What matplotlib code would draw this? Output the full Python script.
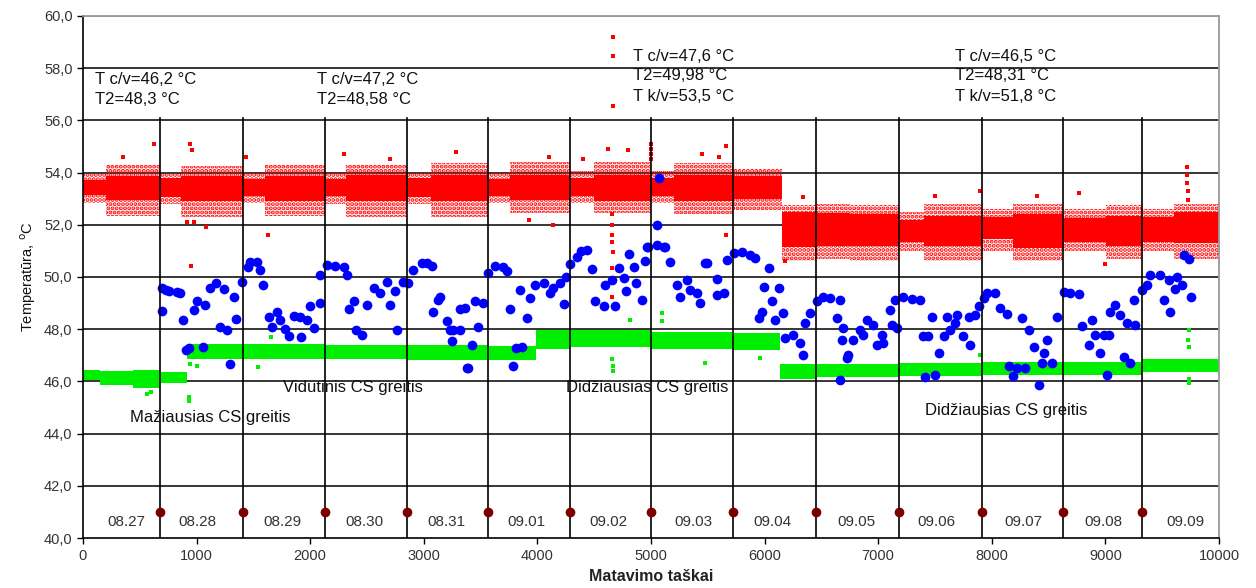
import matplotlib
matplotlib.use("Agg")
import matplotlib.pyplot as plt
import numpy as np

plt.rcParams['font.family'] = ['Liberation Sans', 'DejaVu Sans']
plt.rcParams['hatch.linewidth'] = 2.0

# ---------------- data ----------------
day_bounds = [680, 1405, 2135, 2850, 3565, 4290, 5000, 5720, 6455, 7180, 7910, 8630, 9325]
day_labels = ["08.27", "08.28", "08.29", "08.30", "08.31", "09.01", "09.02",
              "09.03", "09.04", "09.05", "09.06", "09.07", "09.08", "09.09"]
day_label_x = [386, 1010, 1760, 2482, 3204, 3900, 4630, 5378, 6074, 6813, 7509, 8275, 8979, 9701]

# red series (T k/v): segment edges, dense core band and sparse fringe band
red_edges = [0, 200, 680, 860, 1405, 1600, 2135, 2320, 2850, 3060, 3565, 3760, 4290, 4495,
             5000, 5200, 5720, 6150, 6455, 6750, 7180, 7400, 7910, 8190, 8630, 9010, 9325, 9600, 10000]
red_core_lo = [53.15, 52.95, 53.05, 52.9, 53.1, 52.9, 53.1, 52.9, 53.05, 52.9, 53.1, 52.95, 53.1, 52.9,
               53.1, 52.9, 53.0, 51.15, 51.2, 51.2, 51.35, 51.2, 51.45, 51.1, 51.35, 51.2, 51.35, 51.3]
red_core_hi = [53.7, 53.85, 53.8, 53.85, 53.75, 53.85, 53.75, 53.9, 53.8, 53.9, 53.75, 53.9, 53.8, 53.9,
               53.8, 53.9, 53.85, 52.5, 52.45, 52.4, 52.2, 52.35, 52.3, 52.4, 52.25, 52.35, 52.3, 52.5]
red_fr_lo = [52.85, 52.35, 52.8, 52.3, 52.85, 52.35, 52.8, 52.3, 52.8, 52.3, 52.85, 52.45, 52.85, 52.45,
             52.85, 52.4, 52.55, 50.6, 50.7, 50.6, 51.0, 50.6, 51.0, 50.6, 51.0, 50.7, 51.0, 50.7]
red_fr_hi = [53.95, 54.3, 53.95, 54.25, 54.0, 54.3, 54.0, 54.3, 54.0, 54.35, 54.0, 54.4, 54.05, 54.4,
             54.05, 54.35, 54.15, 52.75, 52.8, 52.75, 52.5, 52.8, 52.6, 52.8, 52.6, 52.75, 52.6, 52.8]
red_out_x = [630, 350, 950, 940, 960, 1080, 920, 980, 1633, 1440, 2300, 3280, 3930, 4140, 4620, 4800,
             4666, 4666, 4666, 4660, 4660, 4660, 4662, 4656, 4660, 4660, 5005, 5005, 5005, 5005,
             5660, 5450, 5660, 6343, 6180, 9717, 9717, 9720, 9725, 9730, 7900, 8770, 9000, 4100, 2700,
             4400, 5600, 7500, 8400]
red_out_y = [55.1, 54.6, 50.42, 55.1, 54.85, 51.9, 52.1, 52.1, 51.6, 54.6, 54.7, 54.8, 52.2, 52.0, 54.9,
             54.85, 59.2, 58.45, 56.55, 52.4, 52.0, 51.35, 50.97, 50.33, 49.25, 51.6, 55.1, 54.9, 54.7,
             54.5, 55.0, 54.7, 51.6, 53.08, 50.6, 54.2, 53.9, 53.6, 53.3, 52.95, 53.3, 53.2, 50.5, 54.6,
             54.5, 54.5, 54.6, 53.1, 53.1]

# green series (T c/v)
green_edges = [0, 150, 445, 680, 920, 1400, 2135, 2850, 3565, 3990, 4290, 5000, 5720, 6140,
               6455, 7180, 7910, 8630, 9325, 10000]
green_lo = [46.05, 45.85, 45.75, 45.95, 46.85, 46.85, 46.85, 46.8, 46.8, 47.25, 47.3, 47.25, 47.2,
            46.1, 46.15, 46.2, 46.25, 46.25, 46.35]
green_hi = [46.45, 46.4, 46.45, 46.35, 47.45, 47.45, 47.4, 47.4, 47.35, 47.95, 47.95, 47.9, 47.85,
            46.65, 46.65, 46.7, 46.75, 46.75, 46.85]
green_out_x = [930, 935, 940, 1000, 1540, 1660, 4670, 4665, 4660, 4817, 5096, 5100, 5960, 5480,
               9732, 9730, 9735, 9732, 9740, 7900, 560, 600]
green_out_y = [45.4, 45.25, 46.65, 46.6, 46.55, 47.7, 46.4, 46.6, 46.85, 48.35, 48.6, 48.3, 46.9,
               46.7, 47.97, 47.6, 47.3, 45.93, 46.1, 47.0, 45.5, 45.6]

# blue series (T2)
blue_x = [695, 697, 733, 760, 827, 856, 880, 909, 930, 974, 1003, 1076, 1056, 1120, 1173, 1238, 1208,
          1267, 1296, 1332, 1349, 1399, 1452, 1473, 1531, 1560, 1584, 1634, 1663, 1707, 1737, 1781,
          1810, 1854, 1913, 1918, 1971, 2001, 2030, 2083, 2089, 2147, 2221, 2294, 2329, 2338, 2382,
          2406, 2455, 2505, 2564, 2617, 2675, 2705, 2749, 2763, 2816, 2866, 2910, 2984, 3027, 3072,
          3086, 3130, 3145, 3204, 3233, 3248, 3262, 3321, 3321, 3365, 3380, 3394, 3424, 3453, 3482,
          3526, 3570, 3629, 3702, 3732, 3761, 3790, 3814, 3849, 3864, 3908, 3937, 3981, 4055, 4113,
          4142, 4201, 4236, 4254, 4289, 4348, 4383, 4434, 4480, 4509, 4583, 4597, 4656, 4685, 4723,
          4759, 4782, 4811, 4847, 4870, 4920, 4949, 4964, 4977, 5052, 5053, 5075, 5117, 5125, 5169,
          5228, 5257, 5316, 5345, 5404, 5428, 5476, 5492, 5580, 5586, 5639, 5668, 5727, 5800, 5873,
          5918, 5947, 5977, 5991, 6035, 6064, 6094, 6123, 6167, 6182, 6255, 6314, 6343, 6358, 6402,
          6461, 6519, 6578, 6636, 6666, 6666, 6680, 6695, 6725, 6739, 6783, 6842, 6871, 6901, 6959,
          6989, 7033, 7047, 7106, 7121, 7150, 7165, 7223, 7297, 7370, 7394, 7414, 7443, 7473, 7502,
          7532, 7576, 7605, 7634, 7678, 7693, 7751, 7796, 7810, 7854, 7884, 7928, 7957, 8030, 8074,
          8133, 8148, 8191, 8221, 8265, 8294, 8324, 8368, 8412, 8441, 8456, 8485, 8529, 8573, 8632,
          8690, 8764, 8793, 8852, 8881, 8910, 8955, 8984, 9013, 9028, 9043, 9087, 9130, 9160, 9189,
          9219, 9248, 9263, 9321, 9365, 9395, 9482, 9512, 9556, 9570, 9614, 9629, 9673, 9688, 9732,
          9753]
blue_y = [48.70, 49.58, 49.50, 49.45, 49.44, 49.40, 48.35, 47.20, 47.27, 48.74, 49.06, 48.93, 47.33,
          49.57, 49.76, 49.53, 48.10, 47.97, 46.66, 49.22, 48.39, 49.79, 50.40, 50.58, 50.59, 50.27,
          49.70, 48.46, 48.07, 48.67, 48.35, 48.00, 47.72, 48.51, 48.48, 47.69, 48.35, 48.89, 48.03,
          48.99, 50.08, 50.46, 50.42, 50.37, 50.08, 48.76, 49.06, 47.95, 47.78, 48.93, 49.57, 49.40,
          49.79, 48.93, 49.48, 47.97, 49.79, 49.76, 50.27, 50.55, 50.53, 50.42, 48.67, 49.12, 49.25,
          48.32, 47.97, 47.55, 47.97, 47.97, 48.76, 48.80, 46.50, 46.50, 47.40, 49.06, 48.07, 48.99,
          50.14, 50.42, 50.40, 50.24, 48.76, 46.57, 47.27, 49.50, 47.33, 48.42, 49.18, 49.70, 49.76,
          49.40, 49.57, 49.76, 48.97, 50.01, 50.50, 50.78, 51.01, 51.03, 50.30, 49.06, 48.87, 49.70,
          49.89, 48.87, 50.33, 49.95, 49.48, 50.88, 50.37, 49.76, 49.12, 50.63, 51.16, 51.15, 51.23,
          52.00, 53.80, 51.15, 51.16, 50.59, 49.70, 49.25, 49.89, 49.50, 49.38, 48.99, 50.53, 50.55,
          49.91, 49.31, 49.38, 50.65, 50.91, 50.97, 50.85, 50.72, 48.42, 48.64, 49.63, 50.33, 49.06,
          48.35, 49.57, 48.61, 47.65, 47.78, 47.46, 47.01, 48.23, 48.61, 49.06, 49.25, 49.18, 48.42,
          49.12, 46.06, 47.59, 48.03, 46.89, 47.01, 47.59, 47.97, 47.78, 48.35, 48.16, 47.40, 47.78,
          47.46, 48.74, 48.16, 49.12, 48.03, 49.25, 49.15, 49.12, 47.74, 46.18, 47.74, 48.48, 46.25,
          47.08, 47.72, 48.48, 47.97, 48.23, 48.55, 47.72, 48.46, 47.40, 48.55, 48.87, 49.18, 49.38,
          49.38, 48.80, 48.58, 46.57, 46.21, 46.50, 48.42, 46.50, 47.97, 47.33, 45.86, 46.69, 47.10,
          47.59, 46.69, 48.48, 49.44, 49.40, 49.35, 48.12, 47.40, 48.35, 47.78, 47.08, 47.78, 46.25,
          47.78, 48.67, 48.93, 48.55, 46.95, 48.23, 46.69, 49.12, 48.16, 49.50, 49.70, 50.08, 50.08,
          49.12, 49.89, 48.67, 49.53, 50.01, 49.70, 50.85, 50.68, 49.25]

annot_groups = [
    (106, ["T c/v=46,2 °C", "T2=48,3 °C"], [57.55, 56.8]),
    (2060, ["T c/v=47,2 °C", "T2=48,58 °C"], [57.55, 56.8]),
    (4842, ["T c/v=47,6 °C", "T2=49,98 °C", "T k/v=53,5 °C"], [58.45, 57.7, 56.93]),
    (7676, ["T c/v=46,5 °C", "T2=48,31 °C", "T k/v=51,8 °C"], [58.45, 57.7, 56.93]),
]
speed_labels = [("Mažiausias CS greitis", 414, 44.6), ("Vidutinis CS greitis", 1760, 45.75),
                ("Didžiausias CS greitis", 4252, 45.75), ("Didžiausias CS greitis", 7412, 44.9)]

# ---------------- figure ----------------
fig = plt.figure(figsize=(12.56, 5.88), dpi=100)
ax = fig.add_axes([0.066, 0.085, 0.9045, 0.888])
ax.set_xlim(0, 10000)
ax.set_ylim(40, 60)

# horizontal grid
for yv in np.arange(42, 60, 2):
    ax.axhline(yv, color='black', lw=1.1, zorder=1)
ax.axhline(60, color='#999999', lw=1.3, zorder=1)

def steps(vals):
    return list(vals) + [vals[-1]]

# red fringe + core
ax.fill_between(red_edges, steps(red_fr_lo), steps(red_fr_hi), step='post',
                facecolor='none', edgecolor='#ff0000', hatch='....', linewidth=0, zorder=2)
ax.fill_between(red_edges, steps(red_core_lo), steps(red_core_hi), step='post',
                facecolor='#ff0000', edgecolor='none', linewidth=0, zorder=2)
ax.plot(red_out_x, red_out_y, 's', color='#ff0000', ms=2.4, mew=0, zorder=2)

# green band
ax.fill_between(green_edges, steps(green_lo), steps(green_hi), step='post',
                facecolor='#00ee00', edgecolor='none', linewidth=0, zorder=2)
ax.plot(green_out_x, green_out_y, 's', color='#00ee00', ms=2.6, mew=0, zorder=2)

# blue points
ax.plot(blue_x, blue_y, 'o', color='#0000ff', ms=7, mew=0, zorder=3)

# day separator lines and dots
for xb in day_bounds:
    ax.plot([xb, xb], [40, 56.1], color='black', lw=1.2, zorder=4)
ax.plot(day_bounds, [41] * len(day_bounds), 'o', color='#7a0000', ms=7, mew=0, zorder=5)
for lab, xl in zip(day_labels, day_label_x):
    ax.text(xl, 40.6, lab, ha='center', va='center', fontsize=11, color='#333333', zorder=5)

for x0, lines, ys in annot_groups:
    for t, yy in zip(lines, ys):
        ax.text(x0, yy, t, ha='left', va='center', fontsize=12, color='#111111', zorder=6)
for t, xx, yy in speed_labels:
    ax.text(xx, yy, t, ha='left', va='center', fontsize=12, color='#111111', zorder=6)

# axes styling
ax.set_xticks(np.arange(0, 10001, 1000))
ax.set_yticks(np.arange(40, 60.1, 2))
ax.set_yticklabels([f"{v:.1f}".replace('.', ',') for v in np.arange(40, 60.1, 2)])
ax.tick_params(axis='both', direction='out', length=4, width=1, labelsize=10.5,
               labelcolor='#333333', colors='black')
ax.tick_params(axis='x', pad=4)
for s in ['left', 'bottom']:
    ax.spines[s].set_color('black')
    ax.spines[s].set_linewidth(1.2)
for s in ['top', 'right']:
    ax.spines[s].set_color('#999999')
    ax.spines[s].set_linewidth(1.3)
ax.set_xlabel("Matavimo taškai", fontsize=11.5, fontweight='bold', color='#222222', labelpad=4)
ax.set_ylabel("Temperatūra, $^{\\mathrm{o}}$C", fontsize=10.5, color='#111111', labelpad=4)

fig.savefig("out.png", dpi=100)
